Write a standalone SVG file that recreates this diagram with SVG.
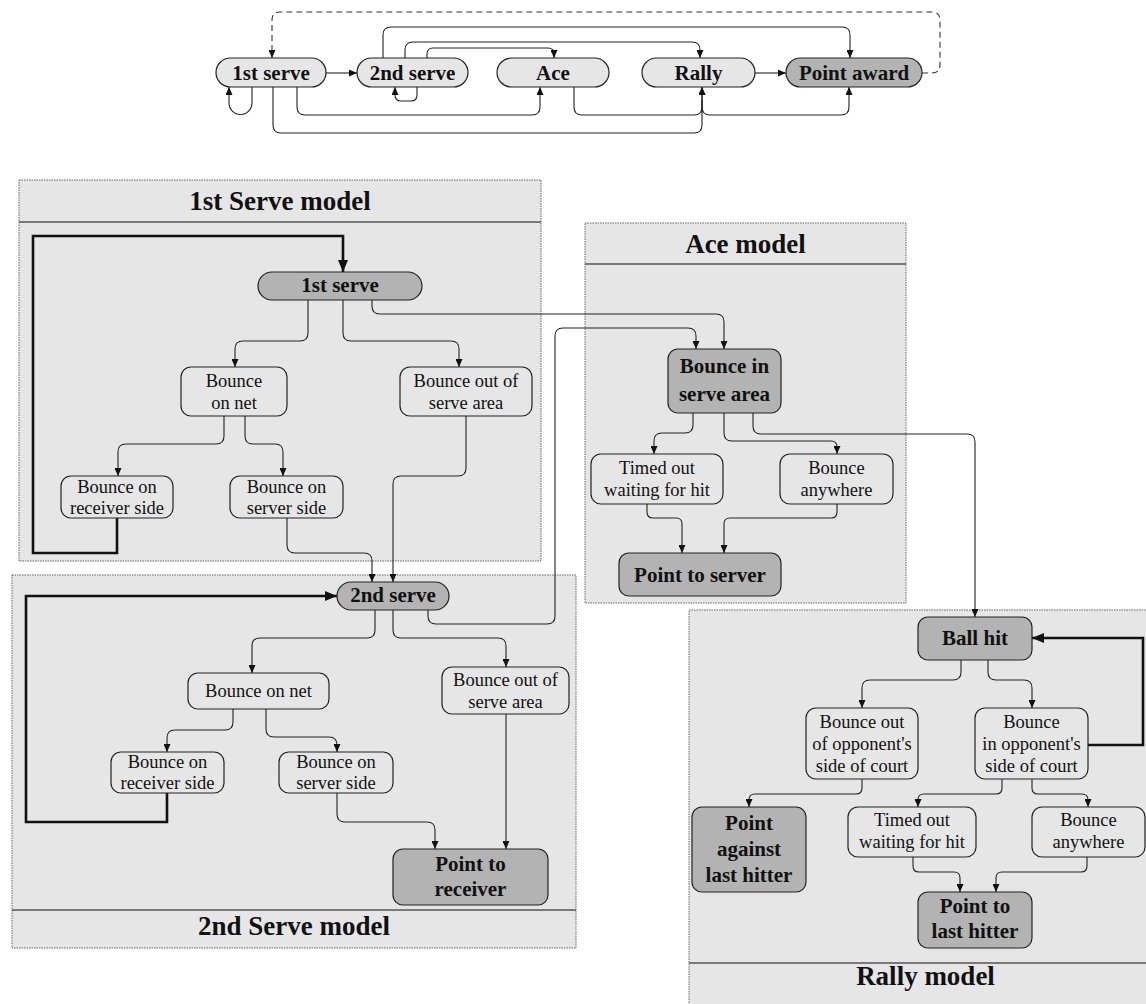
<svg xmlns="http://www.w3.org/2000/svg" width="1146" height="1004" viewBox="0 0 1146 1004">
<style>
.panel{fill:#e6e6e6;stroke:#666;stroke-width:1;stroke-dasharray:1.5 1}
.sep{stroke:#555;stroke-width:1.5}
.title{font-family:"Liberation Serif",serif;font-weight:bold;font-size:27px;fill:#111;text-anchor:middle}
.n{fill:#e6e6e6;stroke:#222;stroke-width:1.2}
.d{fill:#b3b3b3;stroke:#222;stroke-width:1.2}
.t{font-family:"Liberation Serif",serif;font-size:18.5px;fill:#111;text-anchor:middle}
.b{font-family:"Liberation Serif",serif;font-weight:bold;font-size:21px;fill:#111;text-anchor:middle}
.c{fill:none;stroke:#222;stroke-width:1.1;marker-end:url(#a)}
.k{fill:none;stroke:#111;stroke-width:2.6;marker-end:url(#ak)}
.dash{fill:none;stroke:#333;stroke-width:1.1;stroke-dasharray:6 4;marker-end:url(#a)}
</style>
<defs>
<marker id="a" viewBox="0 0 8 7" refX="8" refY="3.5" markerWidth="8" markerHeight="7" orient="auto" markerUnits="userSpaceOnUse"><path d="M0,0 L8,3.5 L0,7 z" fill="#111"/></marker>
<marker id="ak" viewBox="0 0 12 10" refX="12" refY="5" markerWidth="12" markerHeight="10" orient="auto" markerUnits="userSpaceOnUse"><path d="M0,0 L12,5 L0,10 z" fill="#111"/></marker>
</defs>
<rect width="1146" height="1004" fill="#fff"/>

<g id="panel-1st">
<rect class="panel" x="19" y="180" width="522" height="381"/>
<line class="sep" x1="19" y1="222" x2="541" y2="222"/>
<text class="title" x="280" y="210">1st Serve model</text>
</g>
<g id="panel-ace">
<rect class="panel" x="585" y="223" width="321" height="380"/>
<line class="sep" x1="585" y1="264" x2="906" y2="264"/>
<text class="title" x="745.5" y="253">Ace model</text>
</g>
<g id="panel-2nd">
<rect class="panel" x="12" y="575" width="564" height="373"/>
<line class="sep" x1="12" y1="910" x2="576" y2="910"/>
<text class="title" x="294" y="935">2nd Serve model</text>
</g>
<g id="panel-rally">
<rect class="panel" x="689" y="610" width="470" height="400"/>
<line class="sep" x1="689" y1="963" x2="1146" y2="963"/>
<text class="title" x="925.5" y="985">Rally model</text>
</g>

<g id="connectors">
<path class="c" d="M326,73 H357"/>
<path class="c" d="M755,73 H786"/>
<path class="c" d="M252,87 V103 A11.5,11.5 0 0 1 229,103 V87"/>
<path class="c" d="M417,87 V95 Q417,101 411,101 H401 Q395,101 395,95 V87"/>
<path class="c" d="M383,58 V35 Q383,27 391,27 H842 Q850,27 850,35 V58"/>
<path class="c" d="M405,58 V50 Q405,42 413,42 H692 Q700,42 700,50 V58"/>
<path class="c" d="M427,58 V54 Q427,48 433,48 H548 Q554,48 554,54 V58"/>
<path class="dash" d="M922,73 H932 Q940,73 940,65 V20 Q940,12 932,12 H280 Q272,12 272,20 V58"/>
<path class="c" d="M297,87 V107 Q297,115 305,115 H532 Q540,115 540,107 V87"/>
<path class="c" d="M273,87 V125 Q273,133 281,133 H694 Q702,133 702,125 V87"/>
<path class="c" d="M574,87 V107 Q574,115 582,115 H694 Q702,115 702,107 V87"/>
<path class="c" d="M702,100 V107 Q702,115 710,115 H841 Q849,115 849,107 V87"/>

<path class="k" d="M117,518 V553 H33 V236 H343 V272"/>
<path class="c" d="M308,300 V333 Q308,341 300,341 H243 Q235,341 235,349 V367"/>
<path class="c" d="M343,300 V333 Q343,341 351,341 H451 Q459,341 459,349 V367"/>
<path class="c" d="M372,300 V306 Q372,314 380,314 H716 Q724,314 724,322 V349"/>
<path class="c" d="M224,416 V436 Q224,444 216,444 H126 Q118,444 118,452 V476"/>
<path class="c" d="M245,416 V436 Q245,444 253,444 H275 Q283,444 283,452 V476"/>
<path class="c" d="M287,518 V545 Q287,553 295,553 H364 Q372,553 372,561 V582"/>
<path class="c" d="M466,416 V468 Q466,476 458,476 H401 Q393,476 393,484 V582"/>

<path class="k" d="M167,793 V822 H26 V596 H337"/>
<path class="c" d="M375,610 V630 Q375,638 367,638 H260 Q252,638 252,646 V673"/>
<path class="c" d="M393,610 V630 Q393,638 401,638 H498 Q506,638 506,646 V667"/>
<path class="c" d="M428,610 V616 Q428,624 436,624 H547 Q555,624 555,616 V336 Q555,328 563,328 H688 Q696,328 696,336 V349"/>
<path class="c" d="M233,709 V722 Q233,730 225,730 H175 Q167,730 167,738 V752"/>
<path class="c" d="M266,709 V729 Q266,737 274,737 H329 Q337,737 337,745 V752"/>
<path class="c" d="M337,793 V814 Q337,822 345,822 H427 Q435,822 435,830 V849"/>
<path class="c" d="M506,714 V849"/>

<path class="c" d="M693,413 V425 Q693,433 685,433 H662 Q654,433 654,441 V454"/>
<path class="c" d="M724,413 V433 Q724,441 732,441 H831 Q837,441 837,447 V454"/>
<path class="c" d="M753,413 V426 Q753,434 761,434 H967 Q975,434 975,442 V617"/>
<path class="c" d="M647,504 V512 Q647,518 653,518 H676 Q682,518 682,524 V553"/>
<path class="c" d="M837,504 V512 Q837,518 831,518 H730 Q724,518 724,524 V553"/>

<path class="k" d="M1088,745 H1143 V638 H1032"/>
<path class="c" d="M961,660 V672 Q961,680 953,680 H870 Q862,680 862,688 V708"/>
<path class="c" d="M988,660 V672 Q988,680 996,680 H1024 Q1032,680 1032,688 V708"/>
<path class="c" d="M862,779 V788 Q862,794 856,794 H755 Q749,794 749,800 V807"/>
<path class="c" d="M1002,779 V788 Q1002,794 996,794 H924 Q918,794 918,800 V807"/>
<path class="c" d="M1032,779 V788 Q1032,794 1038,794 H1082 Q1088,794 1088,800 V807"/>
<path class="c" d="M913,857 V866 Q913,872 919,872 H954 Q960,872 960,878 V892"/>
<path class="c" d="M1087,857 V866 Q1087,872 1081,872 H1002 Q996,872 996,878 V892"/>
</g>

<g id="top-1st-serve"><rect class="n" x="216" y="58" width="110" height="29" rx="14.5"/><text class="b" x="271" y="80">1st serve</text></g>
<g id="top-2nd-serve"><rect class="n" x="357" y="58" width="111" height="29" rx="14.5"/><text class="b" x="412.5" y="80">2nd serve</text></g>
<g id="top-ace"><rect class="n" x="497" y="58" width="112" height="29" rx="14.5"/><text class="b" x="553" y="80">Ace</text></g>
<g id="top-rally"><rect class="n" x="642" y="58" width="113" height="29" rx="14.5"/><text class="b" x="698.5" y="80">Rally</text></g>
<g id="top-point-award"><rect class="d" x="786" y="58" width="136" height="29" rx="14.5"/><text class="b" x="854" y="80">Point award</text></g>

<g id="s1-first-serve"><rect class="d" x="258" y="272" width="164" height="28" rx="14"/><text class="b" x="340" y="292">1st serve</text></g>
<g id="s1-bounce-net"><rect class="n" x="181" y="367" width="106" height="49" rx="10"/><text class="t" x="234" y="387">Bounce</text><text class="t" x="234" y="409">on net</text></g>
<g id="s1-bounce-out"><rect class="n" x="400" y="367" width="132" height="49" rx="10"/><text class="t" x="466" y="387">Bounce out of</text><text class="t" x="466" y="409">serve area</text></g>
<g id="s1-receiver-side"><rect class="n" x="61" y="476" width="112" height="42" rx="10"/><text class="t" x="117" y="493">Bounce on</text><text class="t" x="117" y="514">receiver side</text></g>
<g id="s1-server-side"><rect class="n" x="230" y="476" width="113" height="42" rx="10"/><text class="t" x="286.5" y="493">Bounce on</text><text class="t" x="286.5" y="514">server side</text></g>

<g id="s2-second-serve"><rect class="d" x="337" y="582" width="112" height="28" rx="14"/><text class="b" x="393" y="602">2nd serve</text></g>
<g id="s2-bounce-net"><rect class="n" x="188" y="673" width="141" height="36" rx="10"/><text class="t" x="258.5" y="697">Bounce on net</text></g>
<g id="s2-bounce-out"><rect class="n" x="442" y="667" width="127" height="47" rx="10"/><text class="t" x="505.5" y="686">Bounce out of</text><text class="t" x="505.5" y="708">serve area</text></g>
<g id="s2-receiver-side"><rect class="n" x="111" y="752" width="113" height="41" rx="10"/><text class="t" x="167.5" y="768">Bounce on</text><text class="t" x="167.5" y="789">receiver side</text></g>
<g id="s2-server-side"><rect class="n" x="279" y="752" width="114" height="41" rx="10"/><text class="t" x="336" y="768">Bounce on</text><text class="t" x="336" y="789">server side</text></g>
<g id="s2-point-receiver"><rect class="d" x="393" y="849" width="155" height="56" rx="10"/><text class="b" x="470.5" y="871">Point to</text><text class="b" x="470.5" y="896">receiver</text></g>

<g id="ace-bounce-in"><rect class="d" x="668" y="349" width="113" height="64" rx="10"/><text class="b" x="724.5" y="373">Bounce in</text><text class="b" x="724.5" y="401">serve area</text></g>
<g id="ace-timed-out"><rect class="n" x="591" y="454" width="132" height="50" rx="10"/><text class="t" x="657" y="474">Timed out</text><text class="t" x="657" y="496">waiting for hit</text></g>
<g id="ace-bounce-anywhere"><rect class="n" x="780" y="454" width="113" height="50" rx="10"/><text class="t" x="836.5" y="474">Bounce</text><text class="t" x="836.5" y="496">anywhere</text></g>
<g id="ace-point-server"><rect class="d" x="619" y="553" width="162" height="43" rx="10"/><text class="b" x="700" y="582">Point to server</text></g>

<g id="r-ball-hit"><rect class="d" x="918" y="617" width="114" height="43" rx="10"/><text class="b" x="975" y="645">Ball hit</text></g>
<g id="r-bounce-out"><rect class="n" x="806" y="708" width="112" height="71" rx="10"/><text class="t" x="862" y="728">Bounce out</text><text class="t" x="862" y="750">of opponent's</text><text class="t" x="862" y="772">side of court</text></g>
<g id="r-bounce-in"><rect class="n" x="975" y="708" width="113" height="71" rx="10"/><text class="t" x="1031.5" y="728">Bounce</text><text class="t" x="1031.5" y="750">in opponent's</text><text class="t" x="1031.5" y="772">side of court</text></g>
<g id="r-point-against"><rect class="d" x="692" y="807" width="114" height="85" rx="10"/><text class="b" x="749" y="830">Point</text><text class="b" x="749" y="856">against</text><text class="b" x="749" y="882">last hitter</text></g>
<g id="r-timed-out"><rect class="n" x="848" y="807" width="128" height="50" rx="10"/><text class="t" x="912" y="826">Timed out</text><text class="t" x="912" y="848">waiting for hit</text></g>
<g id="r-bounce-anywhere"><rect class="n" x="1032" y="807" width="113" height="50" rx="10"/><text class="t" x="1088.5" y="826">Bounce</text><text class="t" x="1088.5" y="848">anywhere</text></g>
<g id="r-point-last"><rect class="d" x="918" y="892" width="114" height="56" rx="10"/><text class="b" x="975" y="913">Point to</text><text class="b" x="975" y="938">last hitter</text></g>
</svg>
